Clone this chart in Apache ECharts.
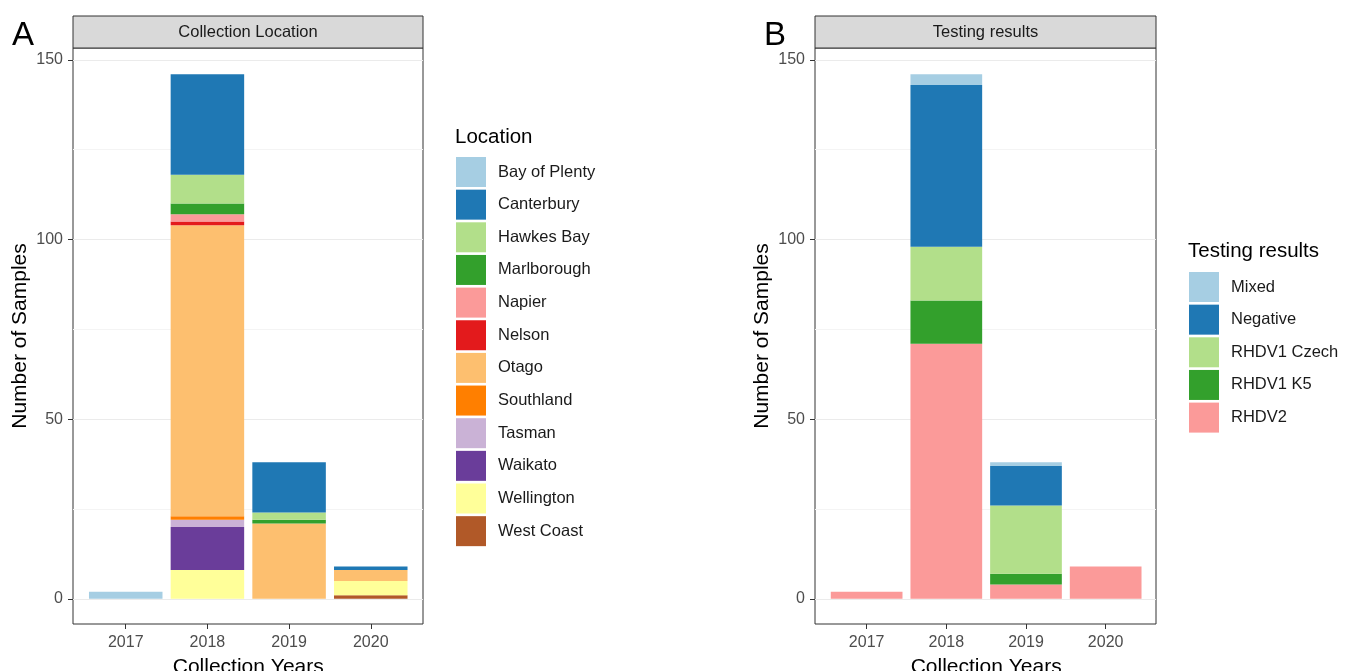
<!DOCTYPE html>
<html><head><meta charset="utf-8">
<script src="https://cdn.jsdelivr.net/npm/echarts@6/dist/echarts.min.js"></script>
<style>html,body{margin:0;padding:0;background:#fff}#c{width:1351px;height:671px}</style>
</head><body><div id="c"></div><script>
const years = ['2017', '2018', '2019', '2020'];
const yTicks = [0, 50, 100, 150];
const yMinorTicks = [25, 75, 125];

const locations = ['Bay of Plenty', 'Canterbury', 'Hawkes Bay', 'Marlborough', 'Napier', 'Nelson', 'Otago', 'Southland', 'Tasman', 'Waikato', 'Wellington', 'West Coast'];
const bayOfPlenty = [2, 0, 0, 0];
const canterbury = [0, 28, 14, 1];
const hawkesBay = [0, 8, 2, 0];
const marlborough = [0, 3, 1, 0];
const napier = [0, 2, 0, 0];
const nelson = [0, 1, 0, 0];
const otago = [0, 81, 21, 3];
const southland = [0, 1, 0, 0];
const tasman = [0, 2, 0, 0];
const waikato = [0, 12, 0, 0];
const wellington = [0, 8, 0, 4];
const westCoast = [0, 0, 0, 1];

const results = ['Mixed', 'Negative', 'RHDV1 Czech', 'RHDV1 K5', 'RHDV2'];
const mixed = [0, 3, 1, 0];
const negative = [0, 45, 11, 0];
const rhdv1Czech = [0, 15, 19, 0];
const rhdv1K5 = [0, 12, 3, 0];
const rhdv2 = [2, 71, 4, 9];

const locationValues = [bayOfPlenty, canterbury, hawkesBay, marlborough, napier, nelson, otago, southland, tasman, waikato, wellington, westCoast];
const resultValues = [mixed, negative, rhdv1Czech, rhdv1K5, rhdv2];

const paired = ['#A6CEE3', '#1F78B4', '#B2DF8A', '#33A02C', '#FB9A99', '#E31A1C', '#FDBF6F', '#FF7F00', '#CAB2D6', '#6A3D9A', '#FFFF99', '#B15928'];

const FONT = '"Liberation Sans", Arial, Helvetica, sans-serif';
const Y_MIN = -7, Y_MAX = 153.3;

// grids: 0/1 = full panels (border, y axis, gridlines); 2/3 = bar areas (category x)
const grids = [
  { left: 73, right: 928, top: 48, bottom: 47, show: true, borderColor: '#333', borderWidth: 1, outerBoundsMode: 'none', containLabel: false },
  { left: 815, right: 195, top: 48, bottom: 47, show: true, borderColor: '#333', borderWidth: 1, outerBoundsMode: 'none', containLabel: false },
  { left: 84.9, right: 939.4, top: 48, bottom: 47, show: false, outerBoundsMode: 'none', containLabel: false },
  { left: 826.8, right: 205.5, top: 48, bottom: 47, show: false, outerBoundsMode: 'none', containLabel: false }
];

function hiddenX(gi) {
  return { type: 'value', gridIndex: gi, min: 0, max: 1, show: false, splitLine: { show: false } };
}
function catX(gi) {
  return {
    type: 'category', gridIndex: gi, data: years, boundaryGap: true,
    name: 'Collection Years', nameLocation: 'middle', nameGap: 33,
    nameTextStyle: { fontSize: 21, color: '#000' },
    axisLine: { show: false, onZero: false },
    axisTick: { show: true, alignWithLabel: true, length: 5, lineStyle: { color: '#333', width: 1 } },
    axisLabel: { fontSize: 16, color: '#4d4d4d', margin: 11, interval: 0 },
    splitLine: { show: false }
  };
}
function mainY(gi) {
  return {
    type: 'value', gridIndex: gi, min: Y_MIN, max: Y_MAX,
    name: 'Number of Samples', nameLocation: 'middle', nameGap: 42,
    nameTextStyle: { fontSize: 21, color: '#000' },
    axisLine: { show: false, onZero: false },
    axisTick: { show: true, length: 5, customValues: yTicks, lineStyle: { color: '#333', width: 1 } },
    axisLabel: { customValues: yTicks, fontSize: 16, color: '#4d4d4d', margin: 10 },
    splitLine: { show: true, lineStyle: { color: '#ebebeb', width: 1 } }
  };
}
function minorY(gi) {
  return {
    type: 'value', gridIndex: gi, min: Y_MIN, max: Y_MAX, position: 'left',
    axisLine: { show: false, onZero: false },
    axisTick: { show: false, customValues: yMinorTicks },
    axisLabel: { show: false, customValues: yMinorTicks },
    splitLine: { show: true, lineStyle: { color: '#f4f4f4', width: 1 } }
  };
}
function barY(gi) {
  return { type: 'value', gridIndex: gi, min: Y_MIN, max: Y_MAX, show: false, splitLine: { show: false }, axisLine: { onZero: false } };
}

const series = [];
for (let k = locations.length - 1; k >= 0; k--) {
  series.push({
    type: 'bar', name: locations[k], xAxisIndex: 2, yAxisIndex: 4, stack: 'loc',
    barWidth: '90%', itemStyle: { color: paired[k] },
    data: locationValues[k]
  });
}
for (let k = results.length - 1; k >= 0; k--) {
  series.push({
    type: 'bar', name: results[k], xAxisIndex: 3, yAxisIndex: 5, stack: 'res',
    barWidth: '90%', itemStyle: { color: paired[k] },
    data: resultValues[k]
  });
}

const legendCommon = {
  orient: 'vertical', icon: 'rect', itemWidth: 30, itemHeight: 30, itemGap: 2.65,
  padding: 0, selectedMode: false,
  textStyle: { fontSize: 16.5, color: '#1a1a1a', padding: [0, 0, 0, 7] }
};

const chart = echarts.init(document.getElementById('c'), null, { renderer: 'canvas' });
chart.setOption({
  animation: false,
  textStyle: { fontFamily: FONT },
  grid: grids,
  xAxis: [hiddenX(0), hiddenX(1), catX(2), catX(3)],
  yAxis: [mainY(0), mainY(1), minorY(0), minorY(1), barY(2), barY(3)],
  legend: [
    Object.assign({}, legendCommon, { left: 456, top: 157, data: locations }),
    Object.assign({}, legendCommon, { left: 1189, top: 272, data: results })
  ],
  graphic: [
    { type: 'rect', shape: { x: 73, y: 16, width: 350, height: 32 }, style: { fill: '#d9d9d9', stroke: '#333', lineWidth: 1 } },
    { type: 'text', x: 248, y: 32, style: { text: 'Collection Location', fontSize: 16.5, fontFamily: FONT, fill: '#1a1a1a', align: 'center', verticalAlign: 'middle' } },
    { type: 'rect', shape: { x: 815, y: 16, width: 341, height: 32 }, style: { fill: '#d9d9d9', stroke: '#333', lineWidth: 1 } },
    { type: 'text', x: 985.5, y: 32, style: { text: 'Testing results', fontSize: 16.5, fontFamily: FONT, fill: '#1a1a1a', align: 'center', verticalAlign: 'middle' } },
    { type: 'text', x: 12, y: 36, style: { text: 'A', fontSize: 33, fontFamily: FONT, fill: '#000', verticalAlign: 'middle' } },
    { type: 'text', x: 764, y: 36, style: { text: 'B', fontSize: 33, fontFamily: FONT, fill: '#000', verticalAlign: 'middle' } },
    { type: 'text', x: 455, y: 137, style: { text: 'Location', fontSize: 20.5, fontFamily: FONT, fill: '#000', verticalAlign: 'middle' } },
    { type: 'text', x: 1188, y: 251, style: { text: 'Testing results', fontSize: 20.5, fontFamily: FONT, fill: '#000', verticalAlign: 'middle' } }
  ],
  series: series
});
</script></body></html>
